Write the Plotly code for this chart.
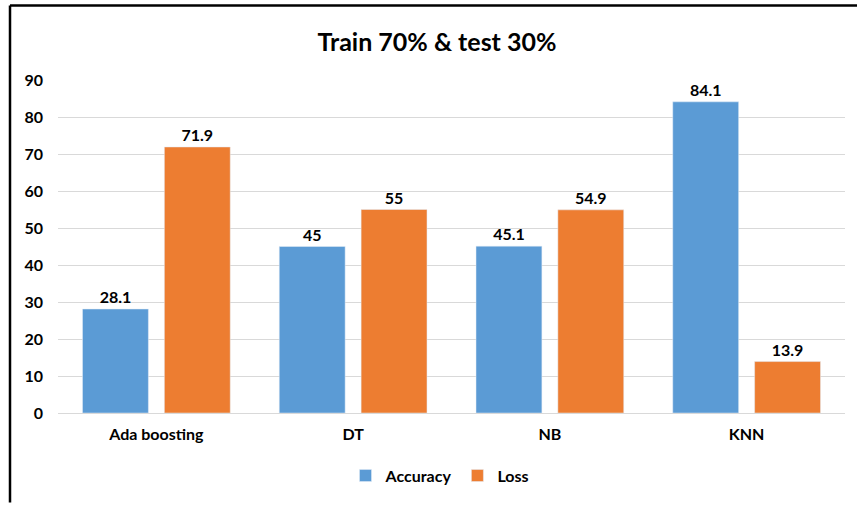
import plotly.graph_objects as go

categories = ["Ada boosting", "DT", "NB", "KNN"]
accuracy = [28.1, 45, 45.1, 84.1]
loss = [71.9, 55, 54.9, 13.9]
acc_labels = ["28.1", "45", "45.1", "84.1"]
loss_labels = ["71.9", "55", "54.9", "13.9"]
y_ticks = [0, 10, 20, 30, 40, 50, 60, 70, 80, 90]

FONT = "Lato, 'Open Sans', sans-serif"
W, H = 857, 505
ML, MR, MT, MB = 58, 12, 80, 90
PW, PH = W - ML - MR, H - MT - MB

fig = go.Figure()
fig.add_trace(go.Bar(name="<b>Accuracy</b>", x=categories, y=accuracy, marker_color="#5B9BD5",
                     text=acc_labels, texttemplate="<b>%{text}</b>",
                     textposition="outside", cliponaxis=False,
                     textfont=dict(family=FONT, size=16, color="#000000")))
fig.add_trace(go.Bar(name="<b>Loss</b>", x=categories, y=loss, marker_color="#ED7D31",
                     text=loss_labels, texttemplate="<b>%{text}</b>",
                     textposition="outside", cliponaxis=False,
                     textfont=dict(family=FONT, size=16, color="#000000")))

def px_x(p):
    return (p - ML) / PW

def px_y(p):
    return (H - MB - p) / PH

fig.update_layout(
    width=W, height=H,
    margin=dict(l=ML, r=MR, t=MT, b=MB),
    paper_bgcolor="white", plot_bgcolor="white",
    barmode="group", bargap=0.168, bargroupgap=0.195,
    title=dict(text="<b>Train 70% & test 30%</b>", x=px_x(437), xref="paper", xanchor="center",
               y=1 - 42 / H, yanchor="middle",
               font=dict(family=FONT, size=25, color="#000000")),
    font=dict(family=FONT, color="#000000"),
    showlegend=True,
    legend=dict(orientation="h", x=px_x(440), xanchor="center", y=px_y(478), yanchor="middle",
                font=dict(family=FONT, size=16, color="#000000"), traceorder="normal"),
    shapes=[
        dict(type="line", xref="paper", yref="paper", x0=px_x(10), x1=px_x(10),
             y0=px_y(5), y1=px_y(505), line=dict(color="#000000", width=2.5)),
        dict(type="line", xref="paper", yref="paper", x0=px_x(10), x1=px_x(857),
             y0=px_y(5), y1=px_y(5), line=dict(color="#000000", width=2.5)),
    ],
)
fig.update_xaxes(showline=False, showgrid=False, ticks="", ticklabelstandoff=10,
                 tickvals=categories, ticktext=["<b>" + c + "</b>" for c in categories],
                 tickfont=dict(family=FONT, size=16, color="#000000"))
fig.update_yaxes(range=[0, 90], tickvals=y_ticks, ticktext=["<b>" + str(v) + "</b>" for v in y_ticks],
                 showgrid=True, gridcolor="#D9D9D9",
                 gridwidth=1, zeroline=True, zerolinecolor="#D9D9D9", zerolinewidth=1,
                 showline=False, ticks="", ticklabelstandoff=14,
                 tickfont=dict(family=FONT, size=16, color="#000000"))

fig.write_html("out.html")
